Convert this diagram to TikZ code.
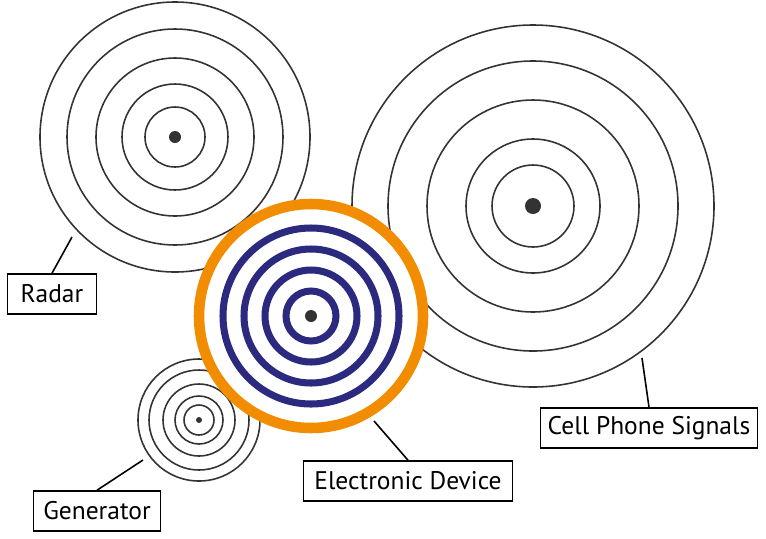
\documentclass[tikz,border=0pt]{standalone}
\usepackage{fontspec}
\setmainfont{PT Sans}
\usetikzlibrary{positioning}
\definecolor{ringorange}{HTML}{F28C00}
\definecolor{ringblue}{HTML}{2B2A7E}
\definecolor{dotgray}{HTML}{333333}
\tikzset{
    wave/.style = {draw = dotgray, line width = 0.9pt},
    label box/.style = {draw = black, line width = 0.9pt, fill = white,
        inner sep = 0pt, minimum height = 0.8cm,
        font = \fontsize{14.5}{17}\selectfont},
    pointer/.style = {draw = black, line width = 0.9pt}
}
\begin{document}
\begin{tikzpicture}[x = 0.02cm, y = -0.02cm]
    \useasboundingbox (0,0) rectangle (766,538);
    % radar
    \coordinate (radar) at (175,137);
    \foreach \r in {135,108,79,53,30}
        \draw[wave] (radar) circle[radius = \r];
    \fill[dotgray] (radar) circle[radius = 6];
    % cell phone
    \coordinate (cell) at (533,206);
    \foreach \r in {181,145,106,67,41}
        \draw[wave] (cell) circle[radius = \r];
    \fill[dotgray] (cell) circle[radius = 8];
    % generator
    \coordinate (gen) at (199,420);
    \foreach \r in {61,50,36,24,15}
        \draw[wave] (gen) circle[radius = \r];
    \fill[dotgray] (gen) circle[radius = 3];
    % electronic device
    \coordinate (dev) at (311,316);
    \draw[ringorange, line width = 6pt, fill = white] (dev) circle[radius = 112];
    \foreach \r in {88,67,46,25}
        \draw[ringblue, line width = 4pt] (dev) circle[radius = \r];
    \fill[dotgray] (dev) circle[radius = 6];
    % labels
    \node[label box, minimum width = 1.78cm] (radarlbl) at (52,294) {Radar};
    \node[label box, minimum width = 4.34cm] (celllbl) at (649,428) {Cell Phone Signals};
    \node[label box, minimum width = 4.18cm] (devlbl) at (408,481) {Electronic Device};
    \node[label box, minimum width = 2.54cm] (genlbl) at (97,511) {Generator};
    \coordinate (radartip) at (72,237);
    \coordinate (celltip) at (642,358);
    \coordinate (devtip) at (374,421);
    \coordinate (gentip) at (143,460);
    \draw[pointer] (radarlbl.north) -- (radartip);
    \draw[pointer] (celllbl.north) -- (celltip);
    \draw[pointer] (devlbl.north) -- (devtip);
    \draw[pointer] (genlbl.north) -- (gentip);
\end{tikzpicture}
\end{document}
